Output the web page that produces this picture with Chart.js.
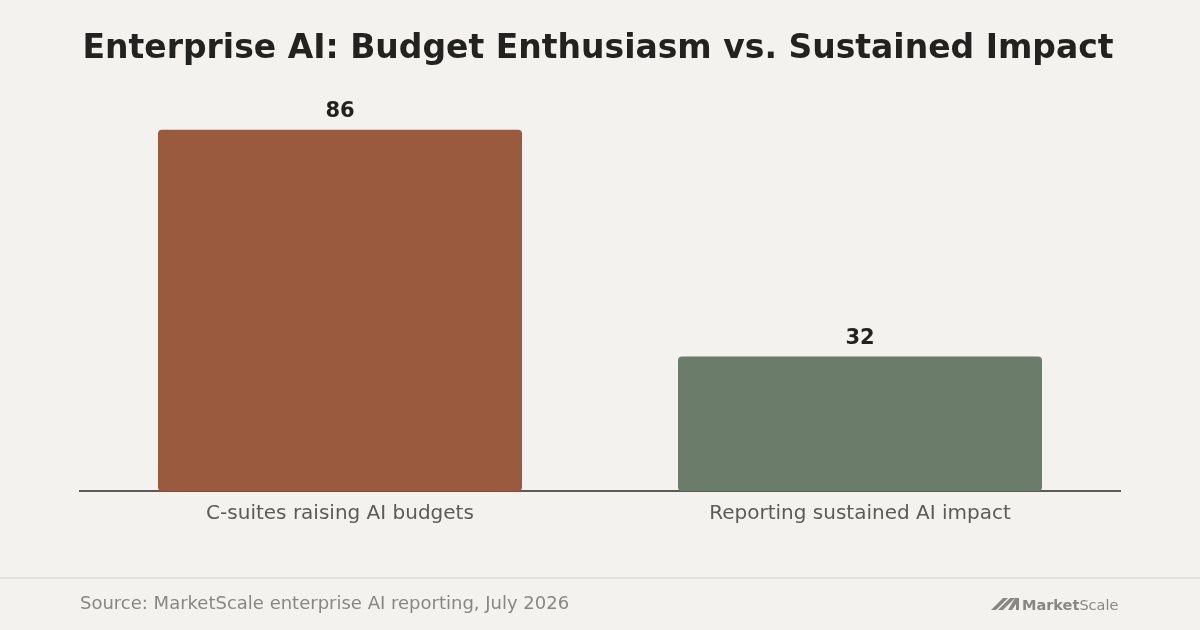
<!DOCTYPE html>
<html>
<head>
<meta charset="utf-8">
<script src="https://cdn.jsdelivr.net/npm/chart.js@4"></script>
<style>
  html, body { margin: 0; padding: 0; background: #f3f2ee; }
  #wrap { width: 1200px; height: 630px; }
</style>
</head>
<body>
<div id="wrap"><canvas id="chart" width="1200" height="630"></canvas></div>
<script>
const categories = ['C-suites raising AI budgets', 'Reporting sustained AI impact'];
const values = [86, 32];
const barColors = ['#9a5a3e', '#6b7c6a'];

const titleText = 'Enterprise AI: Budget Enthusiasm vs. Sustained Impact';
const sourceText = 'Source: MarketScale enterprise AI reporting, July 2026';
const FONT = '"DejaVu Sans", sans-serif';

// background, title, value labels, footer and logo
const decorPlugin = {
  id: 'decor',
  beforeDraw(chart) {
    const ctx = chart.ctx;
    ctx.save();
    ctx.fillStyle = '#f3f2ee';
    ctx.fillRect(0, 0, chart.width, chart.height);
    ctx.restore();
  },
  afterDraw(chart) {
    const ctx = chart.ctx;
    ctx.save();

    // title
    ctx.fillStyle = '#222220';
    ctx.font = 'bold 33px ' + FONT;
    ctx.textAlign = 'center';
    ctx.textBaseline = 'middle';
    ctx.fillText(titleText, 598, 49);

    // value labels above bars
    const meta = chart.getDatasetMeta(0);
    ctx.font = 'bold 21px ' + FONT;
    ctx.textBaseline = 'bottom';
    meta.data.forEach((bar, i) => {
      ctx.fillText(String(values[i]), bar.x, bar.y - 8);
    });

    // footer separator
    ctx.strokeStyle = '#e3e1dc';
    ctx.lineWidth = 2;
    ctx.beginPath();
    ctx.moveTo(0, 578);
    ctx.lineTo(1200, 578);
    ctx.stroke();

    // source
    ctx.fillStyle = '#8a8782';
    ctx.font = '18px ' + FONT;
    ctx.textAlign = 'left';
    ctx.textBaseline = 'middle';
    ctx.fillText(sourceText, 80, 604);

    // logo mark
    ctx.fillStyle = '#8a8782';
    ctx.beginPath();
    ctx.moveTo(991, 610); ctx.lineTo(1003, 598); ctx.lineTo(1008, 598); ctx.lineTo(996, 610);
    ctx.closePath(); ctx.fill();
    ctx.beginPath();
    ctx.moveTo(998, 610); ctx.lineTo(1010, 598); ctx.lineTo(1015, 598); ctx.lineTo(1003, 610);
    ctx.closePath(); ctx.fill();
    ctx.beginPath();
    ctx.moveTo(1008, 610); ctx.lineTo(1015, 598); ctx.lineTo(1019, 598); ctx.lineTo(1019, 610); ctx.lineTo(1016, 610); ctx.lineTo(1016, 604); ctx.lineTo(1012, 610);
    ctx.closePath(); ctx.fill();

    // logo text
    ctx.font = 'bold 14.5px ' + FONT;
    ctx.textBaseline = 'alphabetic';
    ctx.fillText('Market', 1022, 610);
    const w = ctx.measureText('Market').width;
    ctx.font = '14.5px ' + FONT;
    ctx.fillText('Scale', 1022 + w, 610);

    ctx.restore();
  }
};

new Chart(document.getElementById('chart'), {
  type: 'bar',
  data: {
    labels: categories,
    datasets: [{
      data: values,
      backgroundColor: barColors,
      borderRadius: 4,
      borderSkipped: false,
      categoryPercentage: 0.7,
      barPercentage: 1.0
    }]
  },
  options: {
    responsive: false,
    animation: false,
    events: [],
    layout: { padding: { left: 80, right: 80, top: 71, bottom: 0 } },
    plugins: {
      legend: { display: false },
      tooltip: { enabled: false },
      title: { display: false }
    },
    scales: {
      x: {
        grid: { display: false, drawTicks: false },
        border: { display: true, color: '#5e5a55', width: 2 },
        ticks: {
          color: '#5e5a55',
          font: { family: FONT, size: 20 },
          padding: 11
        },
        afterFit(scale) { scale.height = 139; }
      },
      y: {
        display: false,
        min: 0,
        max: 100
      }
    }
  },
  plugins: [decorPlugin]
});
</script>
</body>
</html>
